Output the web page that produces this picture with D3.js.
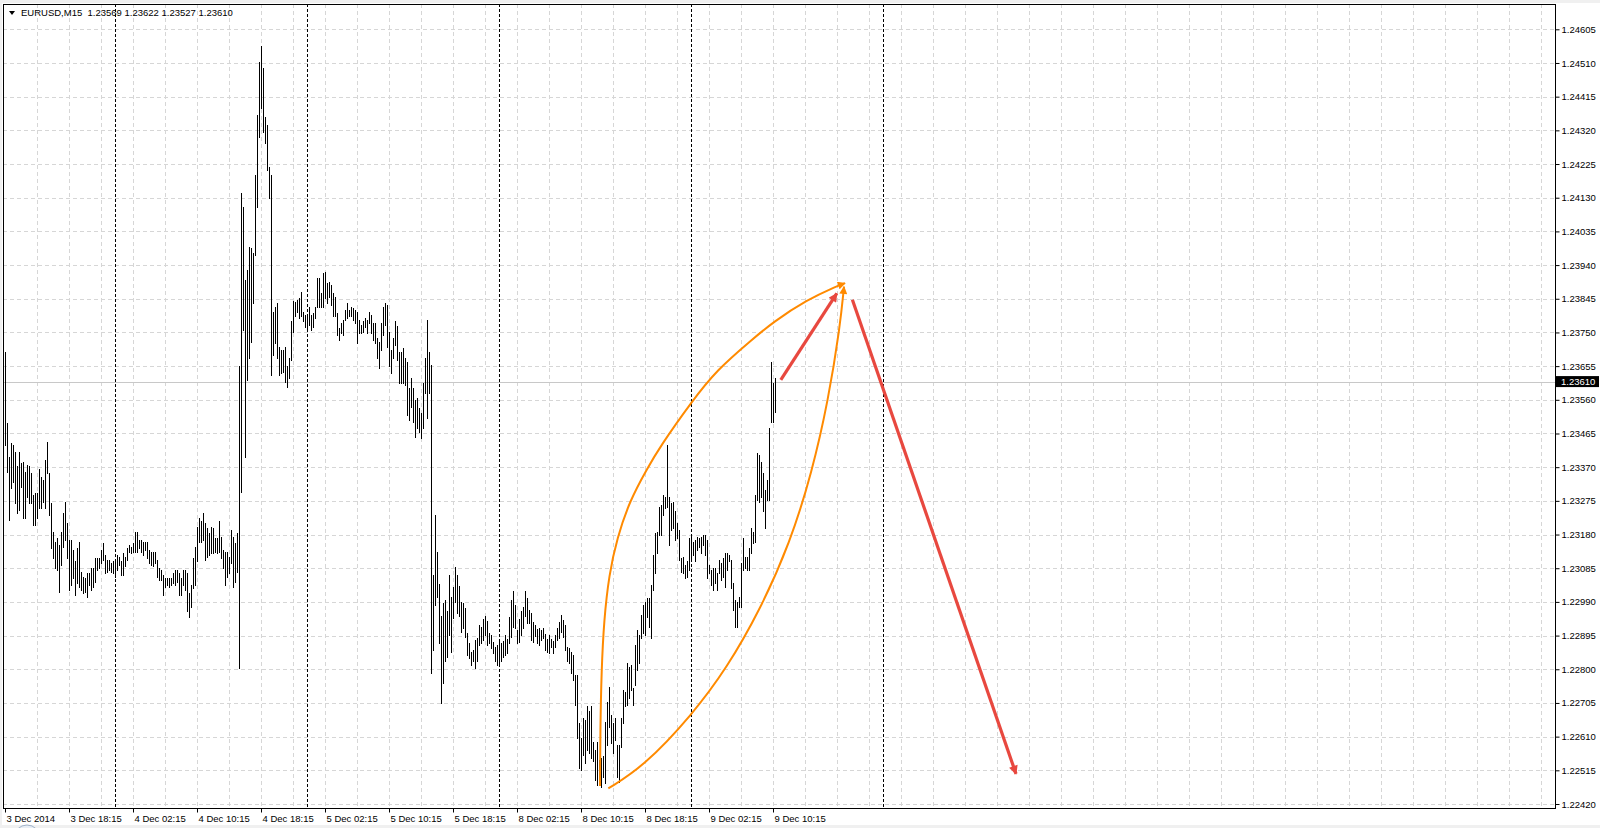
<!DOCTYPE html>
<html>
<head>
<meta charset="utf-8">
<script src="https://d3js.org/d3.v7.min.js"></script>
<style>
  body { margin: 0; background: #f0f0f0; overflow: hidden; }
  svg { display: block; }
  text { font-family: "Liberation Sans", Arial, sans-serif; font-size: 9.5px; fill: #000; }
</style>
</head>
<body>
<script>

var symbol = "EURUSD,M15";
var lastBar = [1.23569, 1.23622, 1.23527, 1.23610];   // open high low close

// M15 bar highs / lows, bar 0 = 3 Dec 2014 10:15
var highs = [
  1.23696,1.23496,1.23400,1.23437,1.23433,1.23414,1.23372,1.23414,1.23381,1.23386,
  1.23357,1.23376,1.23372,1.23353,1.23292,1.23296,1.23296,1.23364,1.23343,1.23334,
  1.23390,1.23442,1.23353,1.23268,1.23188,1.23160,1.23170,1.23151,1.23188,1.23240,
  1.23273,1.23212,1.23165,1.23165,1.23137,1.23104,1.23141,1.23160,1.23075,1.23061,
  1.23057,1.23071,1.23071,1.23085,1.23085,1.23113,1.23113,1.23113,1.23137,1.23155,
  1.23122,1.23108,1.23108,1.23099,1.23104,1.23104,1.23122,1.23118,1.23104,1.23127,
  1.23118,1.23141,1.23151,1.23146,1.23155,1.23188,1.23188,1.23165,1.23165,1.23160,
  1.23160,1.23160,1.23137,1.23132,1.23132,1.23132,1.23108,1.23085,1.23080,1.23066,
  1.23057,1.23057,1.23057,1.23057,1.23071,1.23080,1.23080,1.23071,1.23057,1.23080,
  1.23080,1.23071,1.23014,1.23038,1.23113,1.23146,1.23202,1.23226,1.23217,1.23242,
  1.23212,1.23198,1.23184,1.23202,1.23198,1.23170,1.23170,1.23217,1.23174,1.23137,
  1.23132,1.23132,1.23118,1.23193,1.23174,1.23155,1.23184,1.23654,1.24142,1.24105,
  1.23898,1.23926,1.23992,1.23987,1.23973,1.24194,1.24363,1.24514,1.24558,1.24495,
  1.24359,1.24335,1.24218,1.24194,1.23809,1.23823,1.23832,1.23710,1.23701,1.23701,
  1.23710,1.23654,1.23677,1.23781,1.23840,1.23837,1.23842,1.23846,1.23865,1.23809,
  1.23799,1.23799,1.23823,1.23799,1.23804,1.23823,1.23903,1.23903,1.23860,1.23917,
  1.23921,1.23889,1.23893,1.23884,1.23860,1.23851,1.23804,1.23762,1.23776,1.23785,
  1.23813,1.23832,1.23813,1.23823,1.23818,1.23813,1.23809,1.23785,1.23771,1.23781,
  1.23790,1.23785,1.23809,1.23799,1.23776,1.23776,1.23733,1.23724,1.23776,1.23823,
  1.23832,1.23828,1.23752,1.23701,1.23733,1.23781,1.23767,1.23696,1.23696,1.23705,
  1.23677,1.23668,1.23592,1.23621,1.23592,1.23560,1.23564,1.23536,1.23522,1.23607,
  1.23677,1.23785,1.23696,1.23658,1.23066,1.23235,1.23132,1.23041,1.22950,1.22986,
  1.22994,1.22963,1.23066,1.23005,1.23033,1.23089,1.23066,1.23036,1.22991,1.22986,
  1.22972,1.22902,1.22873,1.22850,1.22855,1.22883,1.22887,1.22925,1.22920,1.22941,
  1.22950,1.22937,1.22903,1.22897,1.22878,1.22864,1.22869,1.22878,1.22873,1.22881,
  1.22897,1.22885,1.22947,1.22995,1.23022,1.22981,1.22911,1.22941,1.22965,1.22977,
  1.23022,1.23000,1.22967,1.22958,1.22934,1.22925,1.22913,1.22916,1.22911,1.22916,
  1.22900,1.22885,1.22897,1.22885,1.22881,1.22897,1.22916,1.22934,1.22953,1.22939,
  1.22925,1.22864,1.22859,1.22850,1.22840,1.22784,1.22784,1.22648,1.22605,1.22662,
  1.22657,1.22695,1.22681,1.22695,1.22596,1.22572,1.22596,1.22544,1.22549,1.22554,
  1.22652,1.22709,1.22751,1.22671,1.22648,1.22662,1.22587,1.22587,1.22662,1.22742,
  1.22737,1.22817,1.22807,1.22812,1.22746,1.22869,1.22911,1.22897,1.22953,1.22981,
  1.22991,1.23000,1.23000,1.23038,1.23122,1.23183,1.23188,1.23259,1.23263,1.23292,
  1.23287,1.23433,1.23287,1.23268,1.23273,1.23245,1.23212,1.23193,1.23113,1.23118,
  1.23094,1.23104,1.23169,1.23179,1.23160,1.23165,1.23174,1.23169,1.23174,1.23179,
  1.23179,1.23165,1.23094,1.23080,1.23085,1.23085,1.23071,1.23108,1.23099,1.23113,
  1.23127,1.23127,1.23122,1.23108,1.23043,1.22995,1.22991,1.23005,1.23099,1.23169,
  1.23118,1.23118,1.23141,1.23198,1.23188,1.23292,1.23409,1.23404,1.23386,1.23353,
  1.23306,1.23334,1.23480,1.23668,1.23606,1.23622
];

var lows = [
  1.23433,1.23357,1.23221,1.23310,1.23329,1.23268,1.23240,1.23249,1.23315,1.23226,
  1.23226,1.23287,1.23268,1.23268,1.23207,1.23207,1.23226,1.23254,1.23254,1.23273,
  1.23254,1.23353,1.23235,1.23141,1.23113,1.23085,1.23080,1.23019,1.23094,1.23146,
  1.23165,1.23113,1.23024,1.23038,1.23057,1.23010,1.23043,1.23033,1.23024,1.23014,
  1.23019,1.23005,1.23038,1.23024,1.23033,1.23047,1.23080,1.23085,1.23099,1.23108,
  1.23071,1.23075,1.23080,1.23075,1.23071,1.23061,1.23080,1.23094,1.23066,1.23066,
  1.23090,1.23108,1.23132,1.23127,1.23132,1.23132,1.23132,1.23141,1.23132,1.23122,
  1.23137,1.23113,1.23099,1.23094,1.23090,1.23099,1.23061,1.23052,1.23052,1.23010,
  1.23033,1.23038,1.23033,1.23038,1.23043,1.23038,1.23047,1.23010,1.23010,1.23038,
  1.23024,1.22963,1.22947,1.22977,1.23028,1.23038,1.23104,1.23160,1.23160,1.23165,
  1.23108,1.23118,1.23122,1.23127,1.23127,1.23132,1.23127,1.23132,1.23113,1.23085,
  1.23038,1.23061,1.23071,1.23099,1.23033,1.23047,1.23075,1.22803,1.23300,1.23757,
  1.23399,1.23616,1.23677,1.23724,1.23832,1.23968,1.24105,1.24302,1.24382,1.24316,
  1.24283,1.24208,1.24128,1.23630,1.23686,1.23719,1.23677,1.23630,1.23635,1.23639,
  1.23611,1.23597,1.23621,1.23672,1.23752,1.23795,1.23809,1.23790,1.23795,1.23781,
  1.23766,1.23757,1.23771,1.23757,1.23766,1.23790,1.23823,1.23823,1.23823,1.23823,
  1.23846,1.23832,1.23851,1.23828,1.23795,1.23795,1.23743,1.23729,1.23748,1.23743,
  1.23785,1.23790,1.23795,1.23795,1.23785,1.23776,1.23719,1.23748,1.23748,1.23752,
  1.23766,1.23748,1.23776,1.23748,1.23729,1.23719,1.23677,1.23649,1.23701,1.23743,
  1.23771,1.23710,1.23654,1.23635,1.23677,1.23715,1.23672,1.23607,1.23607,1.23607,
  1.23602,1.23517,1.23503,1.23541,1.23498,1.23456,1.23480,1.23470,1.23452,1.23480,
  1.23578,1.23508,1.23578,1.22789,1.22854,1.22981,1.23005,1.22873,1.22706,1.22761,
  1.22822,1.22836,1.22897,1.22850,1.22944,1.22991,1.22958,1.22950,1.22906,1.22916,
  1.22892,1.22840,1.22831,1.22812,1.22822,1.22803,1.22822,1.22869,1.22873,1.22883,
  1.22897,1.22869,1.22873,1.22859,1.22845,1.22822,1.22812,1.22808,1.22822,1.22836,
  1.22840,1.22845,1.22873,1.22892,1.22920,1.22916,1.22873,1.22878,1.22897,1.22916,
  1.22949,1.22930,1.22930,1.22883,1.22878,1.22894,1.22873,1.22869,1.22883,1.22887,
  1.22855,1.22850,1.22845,1.22864,1.22847,1.22864,1.22883,1.22887,1.22906,1.22892,
  1.22855,1.22822,1.22817,1.22789,1.22770,1.22699,1.22605,1.22521,1.22516,1.22558,
  1.22535,1.22573,1.22563,1.22549,1.22540,1.22488,1.22474,1.22474,1.22469,1.22497,
  1.22479,1.22587,1.22638,1.22591,1.22563,1.22601,1.22497,1.22483,1.22582,1.22648,
  1.22695,1.22699,1.22718,1.22742,1.22699,1.22756,1.22798,1.22817,1.22887,1.22901,
  1.22897,1.22948,1.22920,1.22887,1.23024,1.23071,1.23127,1.23179,1.23179,1.23235,
  1.23254,1.23259,1.23151,1.23193,1.23198,1.23165,1.23169,1.23108,1.23075,1.23071,
  1.23057,1.23061,1.23080,1.23108,1.23122,1.23104,1.23137,1.23146,1.23127,1.23151,
  1.23122,1.23057,1.23071,1.23038,1.23024,1.23043,1.23024,1.23071,1.23052,1.23061,
  1.23033,1.23080,1.23104,1.23028,1.22967,1.22920,1.22920,1.22977,1.22977,1.23080,
  1.23085,1.23080,1.23080,1.23127,1.23155,1.23160,1.23277,1.23273,1.23287,1.23245,
  1.23198,1.23277,1.23277,1.23498,1.23498,1.23527
];

var timeTickBars = [0, 32, 64, 96, 128, 160, 192, 224, 256, 288, 320, 352, 384];
var timeTickLabels = ["3 Dec 2014", "3 Dec 18:15", "4 Dec 02:15", "4 Dec 10:15", "4 Dec 18:15",
                      "5 Dec 02:15", "5 Dec 10:15", "5 Dec 18:15", "8 Dec 02:15", "8 Dec 10:15",
                      "8 Dec 18:15", "9 Dec 02:15", "9 Dec 10:15"];
var daySeparatorBars = [55, 151, 247, 343, 439];

var priceTicks = [1.22420, 1.22515, 1.22610, 1.22705, 1.22800, 1.22895, 1.22990, 1.23085,
                  1.23180, 1.23275, 1.23370, 1.23465, 1.23560, 1.23655, 1.23750, 1.23845,
                  1.23940, 1.24035, 1.24130, 1.24225, 1.24320, 1.24415, 1.24510, 1.24605];

// drawn objects, as [bar, price]
var upperArc = [[297.5, 1.22471], [297.65, 1.22629], [298.25, 1.22798], [299.5, 1.22939],
                [302, 1.23066], [306, 1.23170], [312.5, 1.23277], [321, 1.23365],
                [327.5, 1.23428], [343.35, 1.23555], [355.85, 1.23644], [373.35, 1.23729],
                [384, 1.23779], [401, 1.23842], [416, 1.23881], [420, 1.23889]];
var lowerArc = [[301.65, 1.22464], [319.15, 1.22525], [343.5, 1.22671], [361, 1.22804],
                [377.5, 1.22967], [392.5, 1.23156], [403.5, 1.23356], [411.65, 1.23559],
                [417.5, 1.23766], [419.5, 1.23879]];
var redArrows = [
  [[387.9, 1.23616], [415.9, 1.23860]],
  [[423.7, 1.23842], [505.5, 1.22505]]
];

var W = 1600, H = 828;
var plot = {left: 3, top: 4, right: 1555, bottom: 808};

var svg = d3.select("body").append("svg")
            .attr("width", W)
            .attr("height", H);

svg.append("rect").attr("width", W).attr("height", H).attr("fill", "#f0f0f0");
svg.append("rect")
   .attr("x", 2).attr("y", 3)
   .attr("width", W - 2).attr("height", 822)
   .attr("fill", "#fff");

var xScale = d3.scaleLinear().domain([0, 775]).range([5, 1555]);
var yScale = d3.scaleLinear().domain([1.22420, 1.24605]).range([804, 29.3]);

var defs = svg.append("defs");
defs.append("clipPath").attr("id", "plotclip")
    .append("rect")
    .attr("x", plot.left).attr("y", plot.top)
    .attr("width", plot.right - plot.left).attr("height", plot.bottom - plot.top);

function arrowMarker(id, color, len, wid) {
  defs.append("marker")
      .attr("id", id)
      .attr("viewBox", "0 -5 10 10")
      .attr("refX", 9)
      .attr("refY", 0)
      .attr("markerUnits", "userSpaceOnUse")
      .attr("markerWidth", len)
      .attr("markerHeight", wid)
      .attr("orient", "auto")
      .append("path")
      .attr("d", "M0,-5L10,0L0,5Z")
      .attr("fill", color);
}
arrowMarker("redhead", "#e8483f", 11, 9);
arrowMarker("orangehead", "#ff8a00", 10, 8);

var g = svg.append("g").attr("clip-path", "url(#plotclip)");

// grid
g.selectAll(".vgrid")
 .data(d3.range(16, 776, 16)).enter()
 .append("line")
 .attr("x1", function(d){ return Math.round(xScale(d)) + 0.5; })
 .attr("x2", function(d){ return Math.round(xScale(d)) + 0.5; })
 .attr("y1", plot.top).attr("y2", plot.bottom)
 .attr("stroke", "#d6d6d6")
 .attr("stroke-dasharray", "4,3");

g.selectAll(".hgrid")
 .data(priceTicks).enter()
 .append("line")
 .attr("x1", plot.left).attr("x2", plot.right)
 .attr("y1", function(d){ return Math.round(yScale(d)) + 0.5; })
 .attr("y2", function(d){ return Math.round(yScale(d)) + 0.5; })
 .attr("stroke", "#d6d6d6")
 .attr("stroke-dasharray", "4,3");

// day separators
g.selectAll(".sep")
 .data(daySeparatorBars).enter()
 .append("line")
 .attr("x1", function(d){ return Math.round(xScale(d)) + 0.5; })
 .attr("x2", function(d){ return Math.round(xScale(d)) + 0.5; })
 .attr("y1", plot.top).attr("y2", plot.bottom)
 .attr("stroke", "#000")
 .attr("stroke-dasharray", "3,2");

// bid line
g.append("line")
 .attr("x1", plot.left).attr("x2", plot.right)
 .attr("y1", Math.round(yScale(lastBar[3])) + 0.5)
 .attr("y2", Math.round(yScale(lastBar[3])) + 0.5)
 .attr("stroke", "#c8c8c8");

// bars
g.selectAll(".bar")
 .data(highs).enter()
 .append("line")
 .attr("x1", function(d, i){ return Math.round(xScale(i)) + 0.5; })
 .attr("x2", function(d, i){ return Math.round(xScale(i)) + 0.5; })
 .attr("y1", function(d){ return yScale(d); })
 .attr("y2", function(d, i){ return yScale(lows[i]) + 1; })
 .attr("stroke", "#000")
 .attr("shape-rendering", "crispEdges");

// drawn objects
var arcLine = d3.line()
                .x(function(d){ return xScale(d[0]); })
                .y(function(d){ return yScale(d[1]); })
                .curve(d3.curveBasis);

[upperArc, lowerArc].forEach(function(pts) {
  g.append("path")
   .attr("d", arcLine(pts))
   .attr("fill", "none")
   .attr("stroke", "#ff8a00")
   .attr("stroke-width", 2)
   .attr("marker-end", "url(#orangehead)");
});

g.selectAll(".redarrow")
 .data(redArrows).enter()
 .append("line")
 .attr("x1", function(d){ return xScale(d[0][0]); })
 .attr("y1", function(d){ return yScale(d[0][1]); })
 .attr("x2", function(d){ return xScale(d[1][0]); })
 .attr("y2", function(d){ return yScale(d[1][1]); })
 .attr("stroke", "#e8483f")
 .attr("stroke-width", 3.2)
 .attr("marker-end", "url(#redhead)");

// frame
svg.append("rect")
   .attr("x", plot.left + 0.5).attr("y", plot.top + 0.5)
   .attr("width", plot.right - plot.left).attr("height", plot.bottom - plot.top)
   .attr("fill", "none")
   .attr("stroke", "#000");

// price axis
var yAxis = d3.axisRight(yScale)
              .tickValues(priceTicks)
              .tickFormat(d3.format(".5f"))
              .tickSize(4)
              .tickPadding(2);

var ya = svg.append("g")
            .attr("transform", "translate(" + (plot.right + 0.5) + ",0)")
            .call(yAxis);
ya.select(".domain").remove();
ya.selectAll("text").attr("font-family", null).attr("font-size", null);

// current price box
var cy = yScale(lastBar[3]);
svg.append("rect")
   .attr("x", plot.right + 1).attr("y", cy - 6)
   .attr("width", 43).attr("height", 11)
   .attr("fill", "#000");
svg.append("text")
   .attr("x", plot.right + 6).attr("y", cy)
   .attr("dy", "0.32em")
   .style("fill", "#fff")
   .text(d3.format(".5f")(lastBar[3]));

// time axis
var xAxis = d3.axisBottom(xScale)
              .tickValues(timeTickBars)
              .tickFormat(function(d, i){ return timeTickLabels[i]; })
              .tickSize(4)
              .tickPadding(3);

var xa = svg.append("g")
            .attr("transform", "translate(0," + (plot.bottom + 0.5) + ")")
            .call(xAxis);
xa.select(".domain").remove();
xa.selectAll("text")
  .attr("font-family", null).attr("font-size", null)
  .attr("text-anchor", "start")
  .attr("dx", 1);

// header
svg.append("path")
   .attr("d", "M9,11L15,11L12,15Z")
   .attr("fill", "#000");
svg.append("text")
   .attr("x", 21).attr("y", 16)
   .attr("xml:space", "preserve")
   .text(symbol + "  " + lastBar.map(d3.format(".5f")).join(" "));

// little scroll button peeking at the bottom
svg.append("circle")
   .attr("cx", 27).attr("cy", 838).attr("r", 13)
   .attr("fill", "#e8eef5")
   .attr("stroke", "#9fb2c8");

</script>
</body>
</html>
